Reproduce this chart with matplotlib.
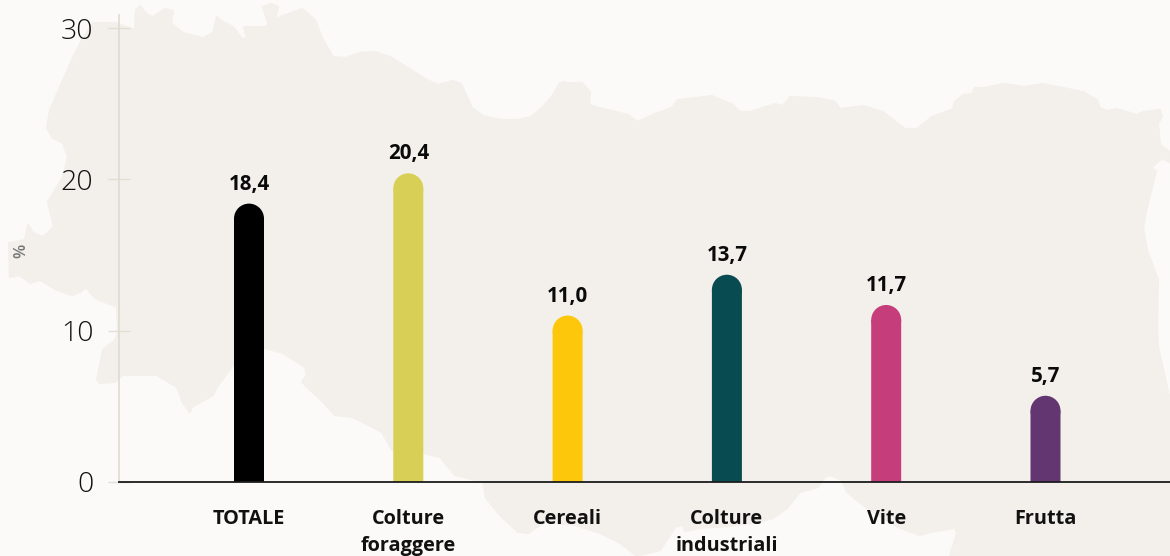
import matplotlib
matplotlib.use("Agg")
import matplotlib.pyplot as plt
from matplotlib.patches import Ellipse, Polygon

categories = ["TOTALE", "Colture\nforaggere", "Cereali", "Colture\nindustriali", "Vite", "Frutta"]
values = [18.4, 20.4, 11.0, 13.7, 11.7, 5.7]
value_labels = ["18,4", "20,4", "11,0", "13,7", "11,7", "5,7"]
bar_colors = ["#000000", "#D7CF56", "#FDC70C", "#084B50", "#C53D7A", "#633672"]
y_ticks = [0, 10, 20, 30]

W, H = 1170, 556
BG = "#FBFAF8"
LAND = "#F3F0EB"

# decorative background silhouette, in picture pixels
land_outline = [
    (93,23),(115,23),(135,30),(136,10),(140,6),(147,15),(153,17),(165,9),(173,11),(171,23),(183,33),(203,38),
    (213,33),(217,17),(223,22),(233,27),(242,39),(247,38),(244,27),(267,27),(268,23),(263,7),(272,4),(278,7),(275,19),
    (302,9),(315,20),(322,38),(333,57),(345,58),(360,53),(375,52),(390,57),(427,80),(438,85),(453,81),(461,84),
    (472,108),(483,116),(500,120),(518,120),(531,117),(543,107),(553,95),(560,83),(565,82),(568,83),(582,83),
    (590,92),(589,103),(592,106),(628,115),(638,122),(655,114),(672,108),(678,100),(712,96),(733,105),(740,112),
    (750,112),(775,104),(783,106),(790,97),(817,98),(835,102),(840,109),(863,106),(883,112),(905,129),(917,129),
    (932,117),(953,109),(955,102),(963,95),(972,94),(975,88),(985,88),(1003,84),(1025,87),(1043,84),(1083,92),
    (1097,100),(1100,108),(1108,111),(1117,109),(1137,115),(1143,112),(1160,110),(1162,117),(1158,123),(1160,145),
    (1170,152),(1170,162),(1162,158),(1151,168),(1156,171),(1147,207),(1143,227),(1147,250),(1158,280),(1157,327),
    (1158,347),(1170,400),(1170,556),(950,556),(957,533),(955,528),(930,532),(920,535),(898,527),(867,508),(847,492),
    (842,480),(830,475),(825,477),(818,487),(800,492),(787,508),(773,518),(760,522),(730,526),(700,528),(685,531),
    (683,525),(675,527),(667,540),(660,550),(637,556),(620,543),(600,533),(575,525),(545,522),(528,533),(518,532),(500,515),
    (486,498),(483,482),(455,475),(440,457),(423,453),(392,450),(382,432),(353,417),(335,415),(323,402),(302,382),
    (307,375),(305,367),(283,353),(265,348),(233,365),(217,387),(213,395),(192,407),(190,412),(183,403),(177,387),
    (157,375),(122,375),(115,382),(100,383),(97,380),(103,350),(115,340),(118,333),(117,307),(95,298),(86,287),
    (80,292),(72,295),(57,290),(40,280),(30,283),(20,275),(10,277),(9,243),(25,240),(28,225),(33,233),(43,237),
    (54,227),(48,202),(63,177),(68,157),(63,143),(53,138),(47,128),(50,110),(72,60),(82,40),
]

fig = plt.figure(figsize=(W / 100, H / 100), dpi=100, facecolor=BG)
fig.patches.append(Polygon([(x / W, 1 - y / H) for x, y in land_outline], closed=True, facecolor=LAND,
                           edgecolor=LAND, linewidth=1.5, joinstyle="round", transform=fig.transFigure, zorder=-5))

left, right, top, bottom = 118.5, 1170, 15, 482
ax = fig.add_axes([left / W, 1 - bottom / H, (right - left) / W, (bottom - top) / H], zorder=2)
ax.patch.set_visible(False)

px_per_cat = 159.3
px_per_unit = 15.13
ax.set_xlim((left - 249) / px_per_cat, (right - 249) / px_per_cat)
ax.set_ylim(0, (bottom - top) / px_per_unit)

bar_w = 30 / px_per_cat
cap_h = 15 / px_per_unit
for i, (v, c, lab) in enumerate(zip(values, bar_colors, value_labels)):
    rects = ax.bar(i, v - cap_h, width=bar_w, color=c, linewidth=0, zorder=3)
    for r in rects:
        r.set_snap(False)
    ax.add_patch(Ellipse((i, v - cap_h), bar_w, 2 * cap_h, facecolor=c, edgecolor="none", zorder=3, snap=False))
    ax.annotate(lab, (i, v), xytext=(0, 6.5), textcoords="offset points", ha="center", va="bottom",
                fontsize=14.8, fontweight="bold", family="Open Sans", color="#0a0a0a")

for s in ("top", "right"):
    ax.spines[s].set_visible(False)
ax.spines["left"].set_color("#DFDBD2")
ax.spines["left"].set_linewidth(1.2)
ax.spines["bottom"].set_color("#1c1c1c")
ax.spines["bottom"].set_linewidth(1.3)
ax.spines["bottom"].set_zorder(4)

ax.set_yticks(y_ticks)
ax.tick_params(axis="y", direction="inout", length=16, width=1, color="#E3DED3", pad=10, labelsize=20.5,
               labelcolor="#111111")
for t in ax.get_yticklabels():
    t.set_fontfamily("Open Sans")
    t.set_fontweight("light")

ax.set_xticks(range(len(categories)))
ax.set_xticklabels(categories, fontsize=14.3, fontweight="bold", family="Open Sans", color="#111111",
                   linespacing=1.46)
ax.tick_params(axis="x", length=0, pad=19.5)

fig.text(21 / W, 1 - 251 / H, "%", rotation=90, ha="center", va="center", fontsize=12, color="#777777",
         family="Open Sans", fontweight="semibold")

fig.savefig("out.png", dpi=100, facecolor=BG)
